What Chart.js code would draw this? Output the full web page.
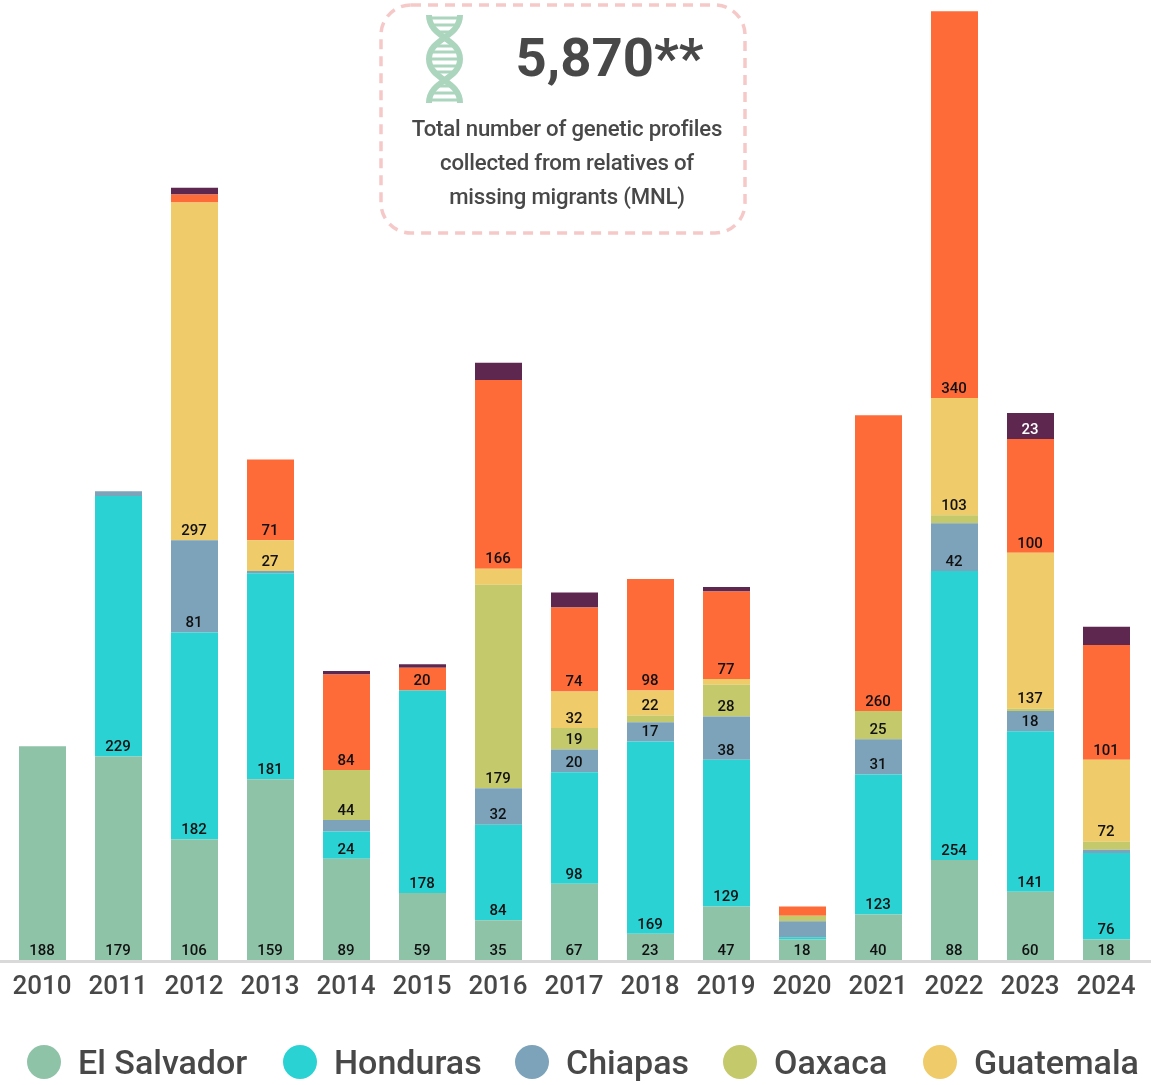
<!DOCTYPE html>
<html>
<head>
<meta charset="utf-8">
<script src="https://cdn.jsdelivr.net/npm/chart.js@4"></script>
<style>
html,body{margin:0;padding:0;background:#fff;width:1151px;height:1085px;overflow:hidden;font-family:Roboto,sans-serif;}
#wrap{position:relative;width:1151px;height:1085px;}
canvas{position:absolute;left:0;top:0;}
#box{position:absolute;left:378px;top:2px;width:370px;height:234px;}
#num{position:absolute;left:515.5px;top:22px;text-align:left;font-weight:700;font-size:54.5px;line-height:70px;color:#484848;white-space:nowrap;}
#desc{position:absolute;left:380px;top:111px;width:374px;text-align:center;font-size:22.2px;line-height:34px;color:#484848;font-weight:500;letter-spacing:-0.2px;}
#legend{position:absolute;left:0;top:0;width:100%;height:100%;pointer-events:none;}
.li{position:absolute;top:1045px;height:34px;display:flex;align-items:center;white-space:nowrap;font-size:34px;color:#484848;font-weight:500;}
.li i{display:inline-block;width:34px;height:34px;border-radius:50%;margin-right:17px;}
</style>
</head>
<body>
<div id="wrap">
<canvas id="c" width="1151" height="1085"></canvas>
<svg id="box" viewBox="378 2 370 234">
<rect x="381" y="5" width="364" height="228" rx="30" ry="30" fill="none" stroke="#f6c9c9" stroke-width="3.5" stroke-dasharray="10 7"/>
<g fill="none" stroke="#acd5be" stroke-width="6">
<path d="M429 15 C429 38 460 38 460 59 C460 80 429 80 429 103"/>
<path d="M460 15 C460 38 429 38 429 59 C429 80 460 80 460 103"/>
<path stroke-width="3" d="M428 18H460M430 25H458M436 32H452M436 46H452M431 52H457M429 59H459M431 66H457M436 72H452M436 86H452M430 93H458M428 100H460"/>
</g>
</svg>
<div id="num">5,870**</div>
<div id="desc">Total number of genetic profiles<br>collected from relatives of<br>missing migrants (MNL)</div>
<div id="legend"></div>
</div>
<script>
const years = ['2010','2011','2012','2013','2014','2015','2016','2017','2018','2019','2020','2021','2022','2023','2024'];
const elSalvador = [188,179,106,159,89,59,35,67,23,47,18,40,88,60,18];
const honduras   = [0,229,182,181,24,178,84,98,169,129,2,123,254,141,76];
const chiapas    = [0,4,81,2,10,0,32,20,17,38,14,31,42,18,3];
const oaxaca     = [0,0,0,0,44,0,179,19,6,28,5,25,7,2,7];
const guatemala  = [0,0,297,27,0,0,14,32,22,5,0,0,103,137,72];
const orangeSeries = [0,0,7,71,84,20,166,74,98,77,8,260,340,100,101];
const purpleSeries = [0,0,6,0,3,3,15,13,0,4,0,0,0,23,16];

const legendNames = ['El Salvador','Honduras','Chiapas','Oaxaca','Guatemala'];
const legendLeft = [27,283,515,723,923];
const colors = ['#8fc3a8','#2bd2d4','#7ca3ba','#c4ca6b','#efcb69','#ff6a39','#5e2750'];
const labelMin = 17;
const yMax = 844;

const labelPlugin = {
  id:'segmentLabels',
  afterDatasetsDraw(chart){
    const ctx = chart.ctx;
    ctx.save();
    ctx.font = '500 15px Roboto';
    ctx.textAlign = 'center';
    ctx.textBaseline = 'middle';
    chart.data.datasets.forEach((ds,i)=>{
      chart.getDatasetMeta(i).data.forEach((bar,j)=>{
        const v = ds.data[j];
        if(v < labelMin) return;
        ctx.fillStyle = i===6 ? '#ffffff' : '#111111';
        ctx.fillText(String(v), bar.x - 0.5, bar.base - 9);
      });
    });
    ctx.restore();
  }
};
const baselinePlugin = {
  id:'baseline',
  afterDatasetsDraw(chart){
    const y = chart.scales.y.getPixelForValue(0);
    const ctx = chart.ctx;
    ctx.save();
    ctx.fillStyle = '#d9d9d9';
    ctx.fillRect(0,y,chart.width,3);
    ctx.restore();
  }
};

new Chart(document.getElementById('c'),{
  type:'bar',
  data:{labels:years,datasets:[
    {label:'El Salvador',data:elSalvador,backgroundColor:colors[0]},
    {label:'Honduras',data:honduras,backgroundColor:colors[1]},
    {label:'Chiapas',data:chiapas,backgroundColor:colors[2]},
    {label:'Oaxaca',data:oaxaca,backgroundColor:colors[3]},
    {label:'Guatemala',data:guatemala,backgroundColor:colors[4]},
    {label:'Series 6',data:orangeSeries,backgroundColor:colors[5]},
    {label:'Series 7',data:purpleSeries,backgroundColor:colors[6]}
  ]},
  options:{
    responsive:false,animation:false,
    layout:{padding:{left:4.5,right:6.5,top:0,bottom:0}},
    datasets:{bar:{categoryPercentage:1,barPercentage:47/76,borderWidth:0}},
    plugins:{legend:{display:false},tooltip:{enabled:false}},
    scales:{
      x:{stacked:true,grid:{display:false},border:{display:false},
         ticks:{color:'#484848',font:{family:'Roboto',size:26,weight:'500'},padding:4,labelOffset:-0.5,maxRotation:0,autoSkip:false},
         afterFit(s){s.height=125;}},
      y:{stacked:true,min:0,max:yMax,display:false}
    }
  },
  plugins:[labelPlugin,baselinePlugin]
});

const lg = document.getElementById('legend');
legendNames.forEach((n,i)=>{
  const d = document.createElement('div');
  d.className='li';
  d.style.left = legendLeft[i]+'px';
  const c = document.createElement('i');
  c.style.background = colors[i];
  d.appendChild(c);
  d.appendChild(document.createTextNode(n));
  lg.appendChild(d);
});
</script>
</body>
</html>
